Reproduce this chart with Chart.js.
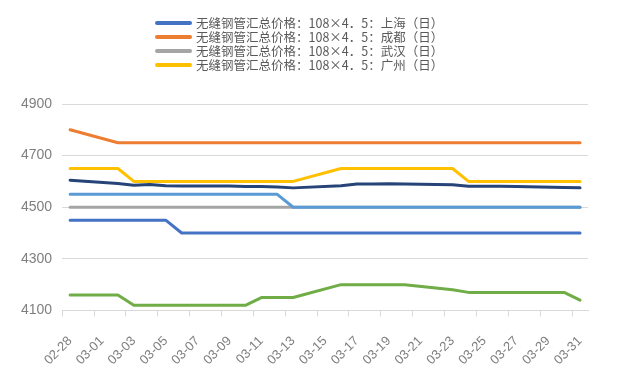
<!DOCTYPE html>
<html>
<head>
<meta charset="utf-8">
<script src="https://cdn.jsdelivr.net/npm/chart.js@4/dist/chart.umd.min.js"></script>
<style>
  html, body { margin: 0; padding: 0; background: #ffffff; }
  #wrap { position: relative; width: 625px; height: 377px; }
  #legend { position: absolute; left: 155px; top: 16px; font-family: "Noto Sans CJK SC", "Noto Sans", sans-serif; font-size: 12.5px; color: #595959; }
  .row { display: flex; align-items: center; height: 14px; line-height: 14px; white-space: nowrap; overflow: visible; }
  .swatch { width: 37px; height: 4px; border-radius: 2px; margin-right: 4px; flex: none; }
</style>
</head>
<body>
<div id="wrap">
  <canvas id="c" width="625" height="377"></canvas>
  <div id="legend"></div>
</div>
<script>
// Categories: calendar days 2020-02-28 .. 2020-03-31 (null = no quote that day)
const categories = ['02-28','02-29','03-01','03-02','03-03','03-04','03-05','03-06','03-07','03-08',
  '03-09','03-10','03-11','03-12','03-13','03-14','03-15','03-16','03-17','03-18','03-19','03-20',
  '03-21','03-22','03-23','03-24','03-25','03-26','03-27','03-28','03-29','03-30','03-31'];

const seriesNames = [
  '无缝钢管汇总价格：108×4．5：上海（日）',
  '无缝钢管汇总价格：108×4．5：成都（日）',
  '无缝钢管汇总价格：108×4．5：武汉（日）',
  '无缝钢管汇总价格：108×4．5：广州（日）'
];

const shanghai  = [4450,null,null,4450,4450,4450,4450,4400,null,null,4400,4400,4400,4400,4400,null,null,4400,4400,4400,4400,4400,null,null,4400,4400,4400,4400,4400,null,null,4400,4400];
const chengdu   = [4800,null,null,4750,4750,4750,4750,4750,null,null,4750,4750,4750,4750,4750,null,null,4750,4750,4750,4750,4750,null,null,4750,4750,4750,4750,4750,null,null,4750,4750];
const wuhan     = [4500,null,null,4500,4500,4500,4500,4500,null,null,4500,4500,4500,4500,4500,null,null,4500,4500,4500,4500,4500,null,null,4500,4500,4500,4500,4500,null,null,4500,4500];
const guangzhou = [4650,null,null,4650,4600,4600,4600,4600,null,null,4600,4600,4600,4600,4600,null,null,4650,4650,4650,4650,4650,null,null,4650,4600,4600,4600,4600,null,null,4600,4600];
const series5   = [4550,null,null,4550,4550,4550,4550,4550,null,null,4550,4550,4550,4550,4500,null,null,4500,4500,4500,4500,4500,null,null,4500,4500,4500,4500,4500,null,null,4500,4500];
const series6   = [4160,null,null,4160,4120,4120,4120,4120,null,null,4120,4120,4150,4150,4150,null,null,4200,4200,4200,4200,4200,null,null,4180,4170,4170,4170,4170,null,null,4170,4140];
const series7   = [4605,null,null,4592,4585,4588,4583,4582,null,null,4582,4580,4580,4578,4575,null,null,4583,4590,4590,4591,4590,null,null,4587,4581,4581,4581,4580,null,null,4576,4575];

const yMin = 4100, yMax = 4900, yStep = 200;

const colors = ['#4472C4','#ED7D31','#A5A5A5','#FFC000','#5B9BD5','#70AD47','#264478'];
const allSeries = [shanghai, chengdu, wuhan, guangzhou, series5, series6, series7];
const allNames = seriesNames.concat(['系列5','系列6','系列7']);

const datasets = allSeries.map((d, i) => ({
  label: allNames[i],
  data: d,
  borderColor: colors[i],
  backgroundColor: colors[i],
  borderWidth: 3,
  pointRadius: 0,
  pointHoverRadius: 0,
  tension: 0,
  spanGaps: true,
  fill: false,
  borderJoinStyle: 'round',
  borderCapStyle: 'round',
  order: allSeries.length - i
}));

const chart = new Chart(document.getElementById('c'), {
  type: 'line',
  data: { labels: categories, datasets: datasets },
  options: {
    responsive: false,
    animation: false,
    events: [],
    layout: { padding: { top: 104, left: 11, right: 37, bottom: -8 } },
    plugins: { legend: { display: false }, tooltip: { enabled: false } },
    scales: {
      x: {
        type: 'category',
        offset: true,
        grid: {
          offset: true,
          drawOnChartArea: false,
          drawTicks: true,
          tickLength: 6,
          tickColor: (ctx) => (ctx.index % 2 === 0 && ctx.index < categories.length) ? '#D9D9D9' : 'rgba(0,0,0,0)'
        },
        border: { display: true, color: '#D9D9D9', width: 1 },
        ticks: {
          autoSkip: false,
          maxRotation: 45,
          minRotation: 45,
          padding: 17,
          color: '#7F7F7F',
          font: { family: 'Liberation Sans', size: 13 },
          callback: function(v, i) { return i % 2 === 0 ? categories[i] : ''; }
        }
      },
      y: {
        min: yMin,
        max: yMax,
        grid: { color: '#D9D9D9', lineWidth: 1, drawTicks: false },
        border: { display: false },
        ticks: {
          stepSize: yStep,
          padding: 10,
          color: '#7F7F7F',
          font: { family: 'Liberation Sans', size: 14 },
          callback: function(v) { return String(v); }
        }
      }
    }
  }
});

// Legend (first four series only, stacked vertically as in the reference)
const legendEl = document.getElementById('legend');
chart.data.datasets.slice(0, seriesNames.length).forEach(ds => {
  const row = document.createElement('div');
  row.className = 'row';
  const sw = document.createElement('span');
  sw.className = 'swatch';
  sw.style.background = ds.borderColor;
  const tx = document.createElement('span');
  tx.textContent = ds.label;
  row.appendChild(sw);
  row.appendChild(tx);
  legendEl.appendChild(row);
});
</script>
</body>
</html>
